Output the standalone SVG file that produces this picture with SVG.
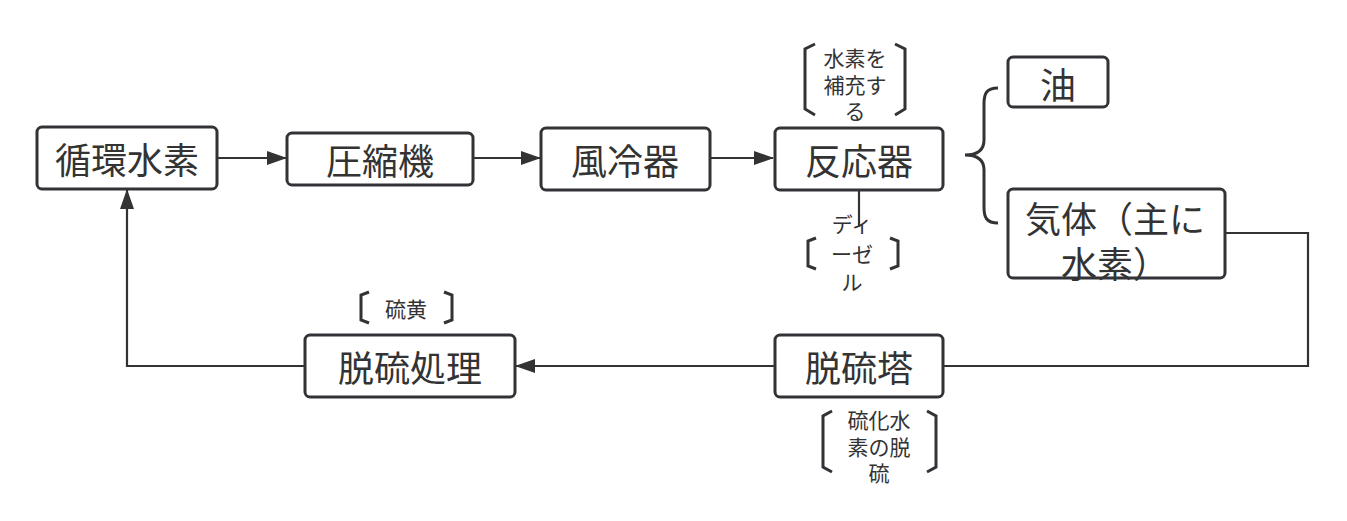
<svg xmlns="http://www.w3.org/2000/svg" width="1347" height="521" viewBox="0 0 1347 521">
<style>
.node rect{fill:#fff;stroke:#323337;stroke-width:3}
.t{font-family:"Noto Sans CJK JP","Noto Sans CJK SC",sans-serif;fill:#333;text-anchor:middle;dominant-baseline:central}
.big{font-size:36px}
.small{font-size:21px}
.ln{fill:none;stroke:#333;stroke-width:2.2}
.br{fill:none;stroke:#323337;stroke-width:3;stroke-linejoin:miter}
</style>
<defs>
<marker id="ah" viewBox="0 0 20 14" refX="19" refY="7" markerWidth="20" markerHeight="14" markerUnits="userSpaceOnUse" orient="auto">
<path d="M0,0 L20,7 L0,14 Z" fill="#333"/>
</marker>
</defs>
<rect width="1347" height="521" fill="#fff"/>
<g id="connectors">
<line class="ln" x1="217" y1="158" x2="286" y2="158" marker-end="url(#ah)"/>
<line class="ln" x1="473" y1="158" x2="540" y2="158" marker-end="url(#ah)"/>
<line class="ln" x1="710" y1="158" x2="773" y2="158" marker-end="url(#ah)"/>
<line class="ln" x1="859" y1="190" x2="859" y2="227"/>
<polyline class="ln" points="1225,233 1308,233 1308,366 943,366"/>
<line class="ln" x1="775" y1="366" x2="516" y2="366" marker-end="url(#ah)"/>
<polyline class="ln" points="305,366 127,366 127,190" marker-end="url(#ah)"/>
<path class="br" d="M998,88 C986,88 984,94 984,104 L984,140 C984,150 978,155 965,155 C978,155 984,160 984,170 L984,207 C984,217 986,223 998,223"/>
</g>
<g id="n1" class="node"><rect x="37" y="127" width="180" height="62" rx="5"/><text class="t big" x="127" y="158">循環水素</text></g>
<g id="n2" class="node"><rect x="287" y="133" width="186" height="52" rx="5"/><text class="t big" x="380" y="159">圧縮機</text></g>
<g id="n3" class="node"><rect x="541" y="128" width="169" height="62" rx="5"/><text class="t big" x="625" y="159">風冷器</text></g>
<g id="n4" class="node"><rect x="775" y="128" width="168" height="62" rx="5"/><text class="t big" x="859" y="159">反応器</text></g>
<g id="n5" class="node"><rect x="1008" y="57" width="100" height="50" rx="5"/><text class="t big" x="1058" y="83">油</text></g>
<g id="n6" class="node"><rect x="1008" y="189" width="217" height="89" rx="5"/><text class="t big" x="1115" y="217">気体（主に</text><text class="t big" x="1115" y="262">水素）</text></g>
<g id="n7" class="node"><rect x="775" y="335" width="168" height="62" rx="5"/><text class="t big" x="859" y="366">脱硫塔</text></g>
<g id="n8" class="node"><rect x="305" y="335" width="210" height="62" rx="5"/><text class="t big" x="410" y="366">脱硫処理</text></g>
<g id="l1">
<path class="br" d="M815,44 L805,49 L805,109 L815,115"/>
<path class="br" d="M895,44 L905,49 L905,109 L895,115"/>
<text class="t small" x="855" y="57">水素を</text>
<text class="t small" x="855" y="84">補充す</text>
<text class="t small" x="855" y="110">る</text>
</g>
<g id="l2">
<path class="br" d="M816,238 L808,241 L808,266 L816,269"/>
<path class="br" d="M890,238 L898,241 L898,266 L890,269"/>
<text class="t small" x="852" y="223">ディ</text>
<text class="t small" x="852" y="253">ーゼ</text>
<text class="t small" x="852" y="281">ル</text>
</g>
<g id="l3">
<path class="br" d="M369,292 L361,295 L361,320 L369,323"/>
<path class="br" d="M444,292 L452,295 L452,320 L444,323"/>
<text class="t small" x="406" y="308">硫黄</text>
</g>
<g id="l4">
<path class="br" d="M832,411 L823,416 L823,467 L832,472"/>
<path class="br" d="M927,411 L936,416 L936,467 L927,472"/>
<text class="t small" x="879" y="419">硫化水</text>
<text class="t small" x="879" y="446">素の脱</text>
<text class="t small" x="879" y="472">硫</text>
</g>
</svg>
